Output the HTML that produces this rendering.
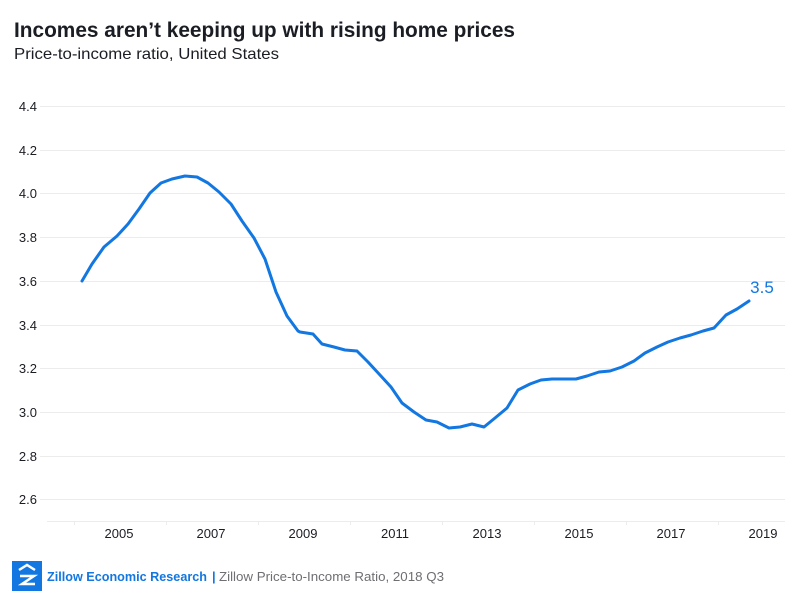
<!DOCTYPE html>
<html><head><meta charset="utf-8"><style>
body{margin:0;background:#fff;width:800px;height:600px;overflow:hidden;font-family:"Liberation Sans",sans-serif}
</style></head><body>
<svg width="800" height="600" xmlns="http://www.w3.org/2000/svg" font-family="Liberation Sans, sans-serif">
<text x="14" y="37" font-size="21" font-weight="bold" fill="#1b1d24" textLength="501" lengthAdjust="spacingAndGlyphs">Incomes aren’t keeping up with rising home prices</text>
<text x="14" y="59" font-size="16" fill="#1b1d24" textLength="265" lengthAdjust="spacingAndGlyphs">Price-to-income ratio, United States</text>
<g stroke="#ececec" stroke-width="1">
<line x1="40" x2="785" y1="106.5" y2="106.5"/><line x1="40" x2="785" y1="150.5" y2="150.5"/>
<line x1="40" x2="785" y1="193.5" y2="193.5"/><line x1="40" x2="785" y1="237.5" y2="237.5"/>
<line x1="40" x2="785" y1="281.5" y2="281.5"/><line x1="40" x2="785" y1="325.5" y2="325.5"/>
<line x1="40" x2="785" y1="368.5" y2="368.5"/><line x1="40" x2="785" y1="412.5" y2="412.5"/>
<line x1="40" x2="785" y1="456.5" y2="456.5"/><line x1="40" x2="785" y1="499.5" y2="499.5"/>
<line x1="47" x2="785" y1="521.5" y2="521.5"/>
<line x1="74.5" x2="74.5" y1="521" y2="525"/><line x1="166.5" x2="166.5" y1="521" y2="525"/>
<line x1="258.5" x2="258.5" y1="521" y2="525"/><line x1="350.5" x2="350.5" y1="521" y2="525"/>
<line x1="442.5" x2="442.5" y1="521" y2="525"/><line x1="534.5" x2="534.5" y1="521" y2="525"/>
<line x1="626.5" x2="626.5" y1="521" y2="525"/><line x1="718.5" x2="718.5" y1="521" y2="525"/>
</g>
<g font-size="13" fill="#1b1d24" text-anchor="end">
<text x="37" y="111">4.4</text><text x="37" y="155">4.2</text><text x="37" y="198">4.0</text>
<text x="37" y="242">3.8</text><text x="37" y="286">3.6</text><text x="37" y="330">3.4</text>
<text x="37" y="373">3.2</text><text x="37" y="417">3.0</text><text x="37" y="461">2.8</text>
<text x="37" y="504">2.6</text>
</g>
<g font-size="13" fill="#1b1d24" text-anchor="middle">
<text x="119" y="538">2005</text><text x="211" y="538">2007</text><text x="303" y="538">2009</text>
<text x="395" y="538">2011</text><text x="487" y="538">2013</text><text x="579" y="538">2015</text>
<text x="671" y="538">2017</text><text x="763" y="538">2019</text>
</g>
<polyline fill="none" stroke="#1277e1" stroke-width="3" stroke-linejoin="round" stroke-linecap="round" points="82,281 92,264 104,247 117,236 128,224 139,209 150,193 161,183 172,179 185,176 197,177 208,183 219,192 231,204 242,221 254,238 265,259 276,292 287,316 298,331 300,332 313,334 322,344 334,347 345,350 357,351 368,362 380,375 391,387 402,403 414,412 426,420 437,422 449,428 460,427 472,424 484,427 495,418 507,408 518,390 530,384 541,380 552,379 564,379 576,379 587,376 599,372 610,371 622,367 634,361 645,353 657,347 668,342 680,338 691,335 703,331 714,328 726,315 737,309 749,301"/>
<text x="762" y="293" font-size="17" fill="#1277e1" text-anchor="middle">3.5</text>
<rect x="12" y="561" width="30" height="30" fill="#1277e1"/>
<path d="M19 570 L27 565 L35 570 M20 576 L34 576 L22 584 L35 584" stroke="#fff" stroke-width="2.5" fill="none"/>
<text x="47" y="581" font-size="13" font-weight="bold" fill="#1277e1" textLength="160" lengthAdjust="spacingAndGlyphs">Zillow Economic Research</text>
<text x="212" y="581" font-size="13" font-weight="bold" fill="#1277e1">|</text>
<text x="219" y="581" font-size="13" fill="#6e6e73" textLength="225" lengthAdjust="spacingAndGlyphs">Zillow Price-to-Income Ratio, 2018 Q3</text>
</svg>
</body></html>
